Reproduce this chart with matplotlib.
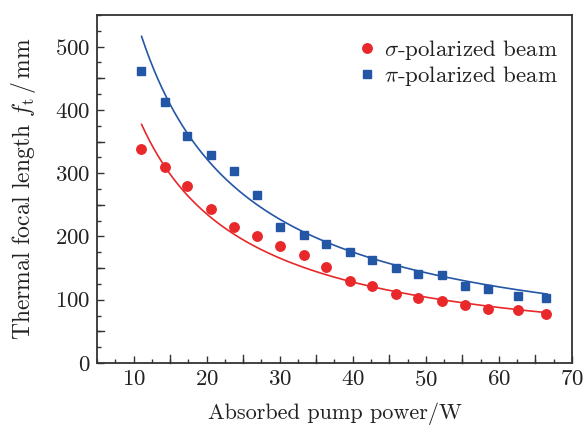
import matplotlib
matplotlib.use("Agg")
import matplotlib.pyplot as plt
import numpy as np
from matplotlib.ticker import MultipleLocator


# absorbed pump power (W)
power = [11.05, 14.3, 17.35, 20.6, 23.7, 26.9, 30.1, 33.3, 36.4,
         39.6, 42.7, 45.9, 49.0, 52.2, 55.4, 58.5, 62.6, 66.5]

# measured thermal focal length (mm)
f_sigma = [339, 309, 280, 244, 215, 201, 185, 170, 152,
           130, 122, 109, 102, 98, 91, 86, 83, 78]
f_pi = [462, 413, 359, 329, 303, 265, 215, 202, 188,
        175, 162, 150, 141, 139, 122, 117, 106, 102]

# fitted curves f = A / (P + c)
fit_sigma = (5592.0, 3.73)
fit_pi = (7670.0, 3.76)
fit_range = (11.1, 66.6)

RED = "#e8282b"
BLUE = "#2456a6"


def main() -> None:
    plt.rcParams["font.family"] = ["cmr10", "DejaVu Serif"]
    plt.rcParams["mathtext.fontset"] = "cm"
    plt.rcParams["axes.formatter.use_mathtext"] = True

    fig = plt.figure(figsize=(5.83, 4.25), dpi=100)
    ax = fig.add_axes([0.1664, 0.1459, 0.8146, 0.8188])

    p = np.linspace(fit_range[0], fit_range[1], 200)
    ax.plot(p, fit_sigma[0] / (p + fit_sigma[1]), color=RED, lw=1.2)
    ax.plot(p, fit_pi[0] / (p + fit_pi[1]), color=BLUE, lw=1.2)

    ax.plot(power, f_sigma, "o", color=RED, ms=6.8, mec=RED,
            label=r"$\sigma$-polarized beam")
    ax.plot(power, f_pi, "s", color=BLUE, ms=5.8, mec=BLUE,
            label=r"$\pi$-polarized beam")

    ax.set_xlim(5, 70)
    ax.set_ylim(0, 550)
    ax.set_xticks([10, 20, 30, 40, 50, 60, 70])
    ax.set_yticks([0, 100, 200, 300, 400, 500])
    ax.xaxis.set_minor_locator(MultipleLocator(2.5))
    ax.yaxis.set_minor_locator(MultipleLocator(25))
    # extra major-length ticks at the 5s / 50s
    for v in np.arange(15, 70, 10):
        ax.plot([v, v], [0, 550 * 0.022], color="#333333", lw=1.0,
                clip_on=False, zorder=0)
    for v in np.arange(50, 550, 100):
        ax.plot([5, 5 + 65 * 0.014], [v, v], color="#333333", lw=1.0,
                clip_on=False, zorder=0)

    ax.tick_params(which="both", direction="in", top=False, right=False,
                   labelsize=16.5, color="#333333", labelcolor="#222222")
    ax.tick_params(which="major", length=5, width=1.0, pad=5)
    ax.tick_params(which="minor", length=3, width=1.0)
    for s in ax.spines.values():
        s.set_linewidth(1.3)
        s.set_color("#333333")

    ax.set_xlabel("Absorbed pump power/W", fontsize=16, labelpad=9,
                  color="#222222")
    ax.set_ylabel(r"Thermal focal length $f_{\rm t}\,/\,{\rm mm}$",
                  fontsize=17, labelpad=12, color="#222222")

    leg = ax.legend(loc="upper right", bbox_to_anchor=(1.019, 1.0),
                    frameon=False, fontsize=16.5,
                    handletextpad=0.15, handlelength=1.2, borderaxespad=0.4,
                    borderpad=0.6, labelspacing=0.1)
    for t in leg.get_texts():
        t.set_color("#222222")

    fig.savefig("out.png", dpi=100)


if __name__ == "__main__":
    main()
